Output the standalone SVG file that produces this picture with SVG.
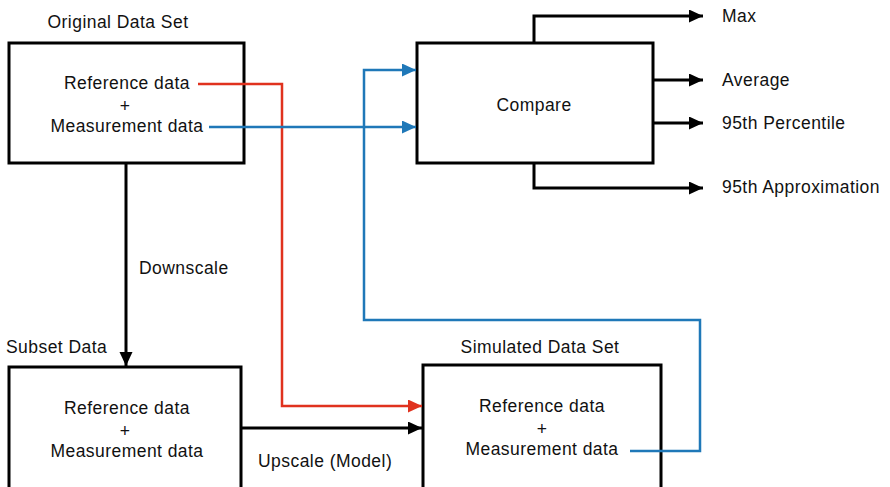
<svg xmlns="http://www.w3.org/2000/svg" width="890" height="487" viewBox="0 0 890 487">
<defs>
<style>
.box{fill:#fff;stroke:#000;stroke-width:3}
text{font-family:"Liberation Sans",Arial,sans-serif;font-size:17.5px;letter-spacing:0.45px;fill:#111}
.c{text-anchor:middle}
.k{fill:none;stroke:#000;stroke-width:3}
.r{fill:none;stroke:#e0321e;stroke-width:2.5}
.b{fill:none;stroke:#1f78b8;stroke-width:2.5}
</style>
<marker id="ak" markerUnits="userSpaceOnUse" markerWidth="16" markerHeight="14" refX="14" refY="6.5" orient="auto"><path d="M0,0 L14,6.5 L0,13 z" fill="#000"/></marker>
<marker id="ar" markerUnits="userSpaceOnUse" markerWidth="16" markerHeight="14" refX="14" refY="6.5" orient="auto"><path d="M0,0 L14,6.5 L0,13 z" fill="#e0321e"/></marker>
<marker id="ab" markerUnits="userSpaceOnUse" markerWidth="16" markerHeight="14" refX="14" refY="6.5" orient="auto"><path d="M0,0 L14,6.5 L0,13 z" fill="#1f78b8"/></marker>
</defs>
<g id="original">
<rect class="box" x="9" y="43" width="235" height="120"/>
<text class="c" x="118" y="28">Original Data Set</text>
<text class="c" x="127" y="89">Reference data</text>
<text class="c" x="125" y="112">+</text>
<text class="c" x="127" y="132">Measurement data</text>
</g>
<g id="compare">
<rect class="box" x="417" y="43" width="236" height="120"/>
<text class="c" x="534" y="111">Compare</text>
</g>
<g id="subset">
<rect class="box" x="9" y="367" width="232" height="140"/>
<text x="6" y="353">Subset Data</text>
<text class="c" x="127" y="414">Reference data</text>
<text class="c" x="125" y="437">+</text>
<text class="c" x="127" y="457">Measurement data</text>
</g>
<g id="simulated">
<rect class="box" x="423" y="365" width="238" height="140"/>
<text class="c" x="540" y="353">Simulated Data Set</text>
<text class="c" x="542" y="412">Reference data</text>
<text class="c" x="542" y="435">+</text>
<text class="c" x="542" y="455">Measurement data</text>
</g>
<g id="outputs">
<text x="722" y="22">Max</text>
<text x="722" y="86">Average</text>
<text x="722" y="129">95th Percentile</text>
<text x="722" y="193">95th Approximation</text>
</g>
<g id="connectors">
<path class="k" d="M534,43 V16 H703" marker-end="url(#ak)"/>
<path class="k" d="M653,80 H703" marker-end="url(#ak)"/>
<path class="k" d="M653,123 H703" marker-end="url(#ak)"/>
<path class="k" d="M534,163 V188 H703" marker-end="url(#ak)"/>
<path class="k" d="M126,163 V366" marker-end="url(#ak)"/>
<path class="k" d="M241,428 H422" marker-end="url(#ak)"/>
<path class="r" d="M198,84 H282 V406 H422" marker-end="url(#ar)"/>
<path class="b" d="M209,127 H416" marker-end="url(#ab)"/>
<path class="b" d="M630,451 H700 V320 H364 V70 H416" marker-end="url(#ab)"/>
<text x="139" y="274">Downscale</text>
<text x="258" y="467">Upscale (Model)</text>
</g>
</svg>
